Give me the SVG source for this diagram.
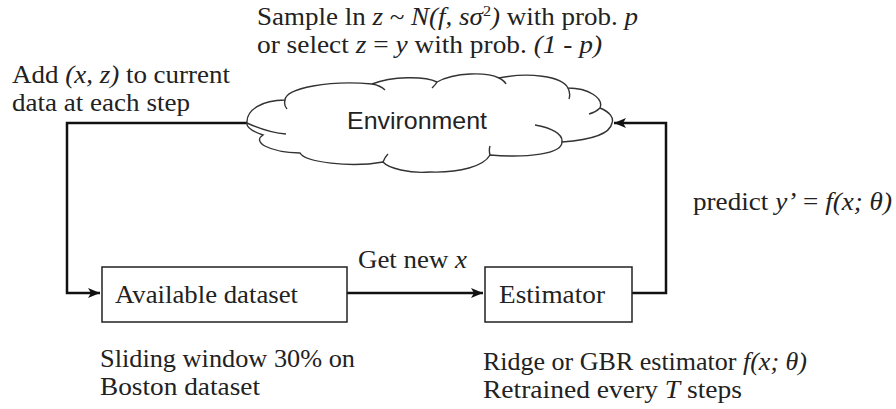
<svg xmlns="http://www.w3.org/2000/svg" width="896" height="409" viewBox="0 0 896 409">
<style>
.t{font-family:"Liberation Serif","Times New Roman",serif;font-size:25px;fill:#222}
.i{font-style:italic}
.s{font-family:"Liberation Sans",Arial,sans-serif;font-size:24px;fill:#222}
.box{fill:#fff;stroke:#222;stroke-width:1.5}
.cl{fill:#fff;stroke:#333;stroke-width:1.4}
.cli{fill:none;stroke:#333;stroke-width:1.4}
.c{fill:none;stroke:#111;stroke-width:2.5}
</style>
<defs>
<marker id="arr" viewBox="0 0 12 10" refX="12" refY="5" markerWidth="13" markerHeight="10" orient="auto" markerUnits="userSpaceOnUse">
<path d="M0,0 L12,5 L0,10 L3,5 z" fill="#111"/>
</marker>
</defs>
<g id="connectors">
<path class="c" d="M247,123 H67 V293 H100" marker-end="url(#arr)"/>
<path class="c" d="M347,293 H483" marker-end="url(#arr)"/>
<path class="c" d="M632,293 H666 V123 H614" marker-end="url(#arr)"/>
</g>
<g id="environment">
<path class="cl" d="M247,123 C246,110 262,100 285,100 C286,88 330,80 372,84 C392,76 425,76 437,82 C455,72 487,72 499,78 C528,72 562,76 568,88 C588,88 604,98 600,108 C610,112 614,118 612,123 C610,134 590,140 562,142 C562,154 528,158 490,155 C484,166 460,173 430,172 C410,174 388,168 383,162 C350,168 305,162 300,153 C268,152 252,142 263,135 C254,132 246,128 247,123 Z"/>
<path class="cli" d="M247,123 C258,128 272,133 286,134 M535,125 C552,128 563,134 562,142 M600,108 C597,111 593,113 589,114 M285,100 C284,104 285,107 287,109 M372,84 C378,85 383,88 385,90 M437,82 C436,84 434,86 432,88 M499,78 C503,80 505,82 506,84 M568,88 C570,92 570,96 569,99 M383,162 C384,159 386,156 388,154 M490,155 C489,151 489,149 490,146"/>
<text class="s" x="347" y="129" textLength="140" lengthAdjust="spacingAndGlyphs">Environment</text>
</g>
<g id="available-dataset">
<rect class="box" x="102" y="267" width="245" height="55"/>
<text class="t" x="115" y="303" textLength="183" lengthAdjust="spacingAndGlyphs">Available dataset</text>
</g>
<g id="estimator">
<rect class="box" x="485" y="267" width="147" height="55"/>
<text class="t" x="499" y="303" textLength="106" lengthAdjust="spacingAndGlyphs">Estimator</text>
</g>
<g id="labels">
<text class="t" x="257" y="25" textLength="381" lengthAdjust="spacingAndGlyphs">Sample ln <tspan class="i">z</tspan> ~ <tspan class="i">N(f, sσ</tspan><tspan font-size="15" dy="-9">2</tspan><tspan class="i" dy="9">)</tspan> with prob. <tspan class="i">p</tspan></text>
<text class="t" x="257" y="53" textLength="345" lengthAdjust="spacingAndGlyphs">or select <tspan class="i">z</tspan> = <tspan class="i">y</tspan> with prob. <tspan class="i">(1 - p)</tspan></text>
<text class="t" x="12" y="83" textLength="218" lengthAdjust="spacingAndGlyphs">Add <tspan class="i">(x, z)</tspan> to current</text>
<text class="t" x="12" y="111" textLength="178" lengthAdjust="spacingAndGlyphs">data at each step</text>
<text class="t" x="358" y="268" textLength="109" lengthAdjust="spacingAndGlyphs">Get new <tspan class="i">x</tspan></text>
<text class="t" x="693" y="210" textLength="199" lengthAdjust="spacingAndGlyphs">predict <tspan class="i">y’</tspan> = <tspan class="i">f(x; θ)</tspan></text>
<text class="t" x="100" y="367" textLength="255" lengthAdjust="spacingAndGlyphs">Sliding window 30% on</text>
<text class="t" x="100" y="395" textLength="160" lengthAdjust="spacingAndGlyphs">Boston dataset</text>
<text class="t" x="483" y="370" textLength="324" lengthAdjust="spacingAndGlyphs">Ridge or GBR estimator <tspan class="i">f(x; θ)</tspan></text>
<text class="t" x="483" y="398" textLength="259" lengthAdjust="spacingAndGlyphs">Retrained every <tspan class="i">T</tspan> steps</text>
</g>
</svg>
